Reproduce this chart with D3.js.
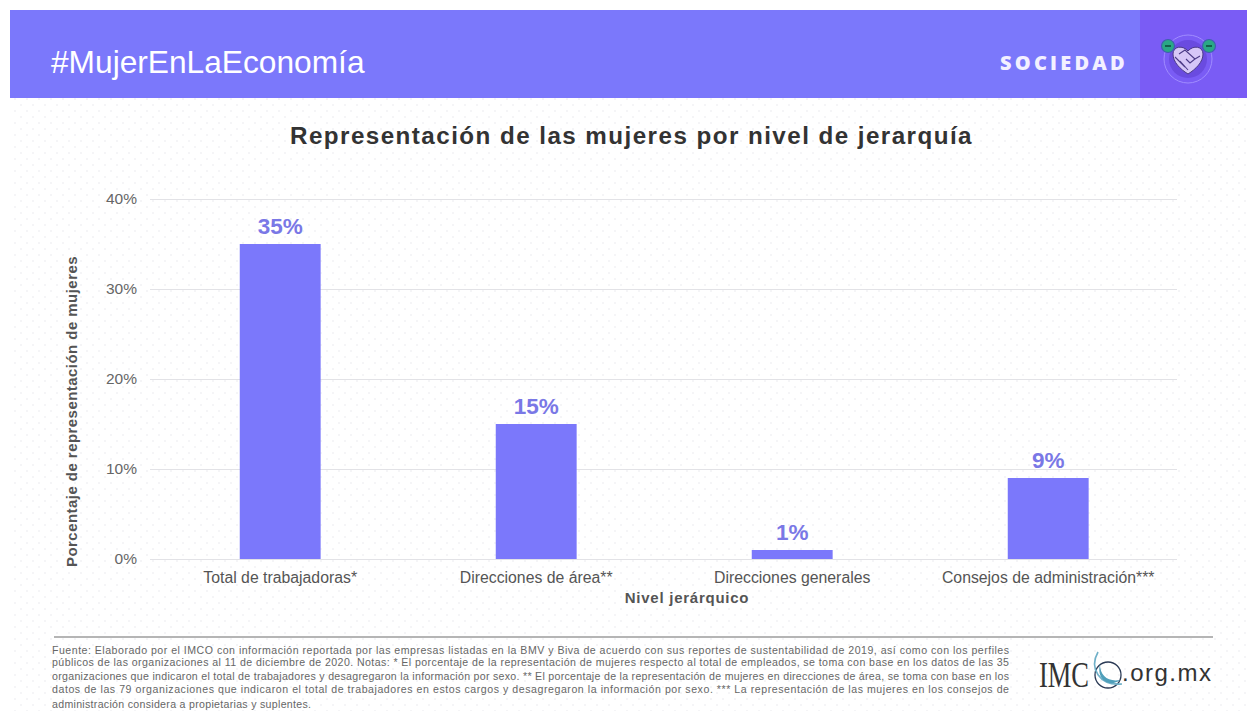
<!DOCTYPE html>
<html><head><meta charset="utf-8">
<script src="https://cdn.jsdelivr.net/npm/d3@7"></script>
<style>html,body{margin:0;padding:0;background:#fff;overflow:hidden}svg{display:block}text{font-family:"Liberation Sans",Arial,sans-serif}</style>
</head><body><svg id="c" width="1247" height="711"></svg>
<script>
const categories = ["Total de trabajadoras*","Direcciones de área**","Direcciones generales","Consejos de administración***"];
const values = [35,15,1,9];
const yTicks = [0,10,20,30,40];
const noteLines = [
"Fuente: Elaborado por el IMCO con información reportada por las empresas listadas en la BMV y Biva de acuerdo con sus reportes de sustentabilidad de 2019, así como con los perfiles",
"públicos de las organizaciones al 11 de diciembre de 2020. Notas: * El porcentaje de la representación de mujeres respecto al total de empleados, se toma con base en los datos de las 35",
"organizaciones que indicaron el total de trabajadores y desagregaron la información por sexo. ** El porcentaje de la representación de mujeres en direcciones de área, se toma con base en los",
"datos de las 79 organizaciones que indicaron el total de trabajadores en estos cargos y desagregaron la información por sexo. *** La representación de las mujeres en los consejos de",
"administración considera a propietarias y suplentes."];
const noteWidths = [957,957,957,957,259];
const noteBase = [654,666,680,693,708];

const svg = d3.select("#c");
const defs = svg.append("defs");
const pat = defs.append("pattern").attr("id","dots").attr("width",12).attr("height",12).attr("patternUnits","userSpaceOnUse");
pat.append("circle").attr("cx",3).attr("cy",3).attr("r",1).attr("fill","#f2f2f5");
pat.append("circle").attr("cx",9).attr("cy",9).attr("r",1).attr("fill","#f2f2f5");
svg.append("rect").attr("x",10).attr("y",98).attr("width",1237).attr("height",613).attr("fill","url(#dots)");

// header
svg.append("rect").attr("x",10).attr("y",10).attr("width",1237).attr("height",88).attr("fill","#7b78fb");
svg.append("rect").attr("x",1140).attr("y",10).attr("width",107).attr("height",88).attr("fill","#7a5cf5");
svg.append("text").attr("x",51).attr("y",73).attr("font-size",31.7).attr("fill","#fff").text("#MujerEnLaEconomía");
svg.append("text").attr("x",1000).attr("y",70).style("font-family","'Open Sans',sans-serif").attr("font-size",20).attr("font-weight",800).attr("letter-spacing",3.2).attr("fill","#f3f0ff").text("SOCIEDAD");

// icon
const ic = svg.append("g").attr("transform","translate(1188,59)");
ic.append("circle").attr("r",24).attr("fill","none").attr("stroke","#a08cff").attr("stroke-width",1);
ic.append("circle").attr("r",19).attr("fill","#6a4be0");
ic.append("path").attr("d","M0,15 C-8,10 -15,3 -15,-5 C-15,-13 -5,-14 0,-8 C5,-14 15,-13 15,-5 C15,3 8,10 0,15Z").attr("fill","#d6c6f7").attr("stroke","#4b3a86").attr("stroke-width",1);
ic.append("path").attr("d","M-13,-2 L-3,8 M-8,2 L0,11 M-9,-5 L-3,-9 L7,0 L2,4 L-2,0 M12,-3 L7,0").attr("fill","none").attr("stroke","#4b3a86").attr("stroke-width",1.1);
[[-20,-13],[21,-13]].forEach(p=>{
  ic.append("circle").attr("cx",p[0]).attr("cy",p[1]).attr("r",6.5).attr("fill","#2aa886").attr("stroke","#3f5fb0").attr("stroke-width",1.2);
  ic.append("rect").attr("x",p[0]-3).attr("y",p[1]-1).attr("width",6).attr("height",2).attr("fill","#12604c");
});

// title
svg.append("text").attr("x",631.5).attr("y",144).attr("text-anchor","middle").attr("font-size",24.2).attr("font-weight",700).attr("letter-spacing",1.45).attr("fill","#333").text("Representación de las mujeres por nivel de jerarquía");

// scales
const x = d3.scaleBand().domain(categories).range([152.2,1176.2]).paddingInner(0.684).paddingOuter(0.342);
const y = d3.scaleLinear().domain([0,40]).range([559,199]);

const gy = svg.append("g").attr("transform","translate(150,0)")
  .call(d3.axisLeft(y).tickValues(yTicks).tickFormat(d=>d+"%").tickSize(-1027).tickPadding(13));
gy.select(".domain").remove();
gy.selectAll("line").attr("stroke","#e2e2e6").attr("stroke-width",1);
gy.selectAll("text").attr("font-size",15.5).attr("fill","#666").style("font-family","'Liberation Sans',Arial,sans-serif");

const gx = svg.append("g").attr("transform","translate(0,559)")
  .call(d3.axisBottom(x).tickSize(0).tickPadding(13));
gx.select(".domain").remove();
gx.selectAll("text").attr("font-size",15.8).attr("fill","#555").style("font-family","'Liberation Sans',Arial,sans-serif");

svg.selectAll("rect.bar").data(values).join("rect").attr("class","bar")
  .attr("x",(d,i)=>x(categories[i])).attr("width",x.bandwidth())
  .attr("y",d=>y(d)).attr("height",d=>y(0)-y(d)).attr("fill","#7b78fb");
svg.selectAll("text.lab").data(values).join("text").attr("class","lab")
  .attr("x",(d,i)=>x(categories[i])+x.bandwidth()/2).attr("y",d=>y(d)-10)
  .attr("text-anchor","middle").attr("font-size",22.5).attr("font-weight",700).attr("fill","#7a78e6").text(d=>d+"%");

svg.append("text").attr("x",687).attr("y",603).attr("text-anchor","middle").attr("font-size",15).attr("font-weight",700).attr("letter-spacing",0.75).attr("fill","#555").text("Nivel jerárquico");
svg.append("text").attr("transform","translate(77,411.5) rotate(-90)").attr("text-anchor","middle").attr("font-size",15).attr("font-weight",700).attr("letter-spacing",0.45).attr("fill","#555").text("Porcentaje de representación de mujeres");

// footer
svg.append("line").attr("x1",54).attr("x2",1213).attr("y1",637).attr("y2",637).attr("stroke","#b5b5b5").attr("stroke-width",2);
noteLines.forEach((t,i)=>{
  svg.append("text").attr("x",52).attr("y",noteBase[i]).attr("font-size",10.6).attr("fill","#666")
    .attr("textLength",noteWidths[i]).attr("lengthAdjust","spacing").text(t);
});
// logo
svg.append("text").attr("x",1039).attr("y",687).style("font-family","'Liberation Serif',serif").attr("font-size",36).attr("fill","#333").attr("textLength",50).attr("lengthAdjust","spacingAndGlyphs").text("IMC");
svg.append("circle").attr("cx",1108).attr("cy",675).attr("r",13).attr("fill","none").attr("stroke","#2b3a55").attr("stroke-width",1.3);
svg.append("path").attr("d","M1098,652 C1089,668 1099,686 1122,684").attr("fill","none").attr("stroke","#6fb0c8").attr("stroke-width",1.6);
svg.append("path").attr("d","M1100,664 C1100,676 1108,682 1120,680 C1110,688 1096,680 1100,664Z").attr("fill","#4f9fba");
svg.append("text").attr("x",1122).attr("y",681).attr("font-size",24).attr("letter-spacing",1.5).attr("fill","#333").text(".org.mx");
</script></body></html>
